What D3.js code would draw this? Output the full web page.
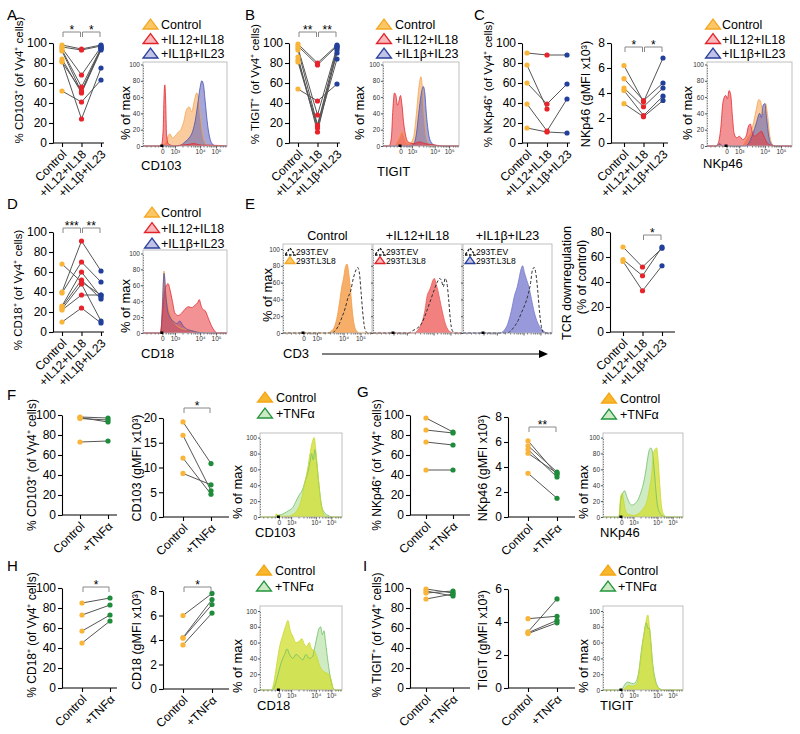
<!DOCTYPE html>
<html><head><meta charset="utf-8">
<script src="https://cdn.jsdelivr.net/npm/d3@7"></script>
<style>body{margin:0;background:#fff}</style>
</head><body><svg id="c" width="800" height="734"></svg>
<script>
// ---------------- DATA ----------------
const catsCyto = ["Control", "+IL12+IL18", "+IL1β+IL23"];
const catsTnf = ["Control", "+TNFα"];
const pctTicks = [0, 20, 40, 60, 80, 100];
const mfi8Ticks = [0, 2, 4, 6, 8];
const mfi20Ticks = [0, 5, 10, 15, 20];
const mfi6Ticks = [0, 2, 4, 6];
const tcrTicks = [0, 20, 40, 60, 80];

// donors: [Control, +IL12+IL18, +IL1b+IL23]
const A_cd103Pct = [[98,94,98],[96,93,97],[95,68,96],[93,56,95],[92,51,94],[84,50,93],[82,24,75],[81,52,95],[52,41,63]];
const B_tigitPct = [[99,80,98],[97,78,97],[95,28,96],[93,18,95],[86,11,93],[83,17,90],[81,15,84],[54,42,59]];
const C_nkp46Pct = [[90,88,88],[78,34,null],[60,39,59],[39,12,44],[15,11,10]];
const C_nkp46Mfi = [[6.2,3.3,6.8],[5.15,3.4,4.8],[4.4,2.9,4.4],[4.2,2.2,3.75],[3.15,2.1,3.4]];
const D_cd18Pct = [[68,50,37],[40,91,61],[39,70,50],[26,60,35],[25,52,33],[23,48,11],[22,37,37],[10,24,9]];
const E_tcrDown = [[68,52,67],[58,45,68],[56.5,33,53]];
// donors: [Control, +TNFa]
const F_cd103Pct = [[98,97],[97.5,93],[96.5,95],[73,74]];
const F_cd103Mfi = [[19.2,10.8],[16.5,5.3],[11.9,4.6],[8.8,6.5]];
const G_nkp46Pct = [[97,83],[85,82],[73,70],[45,45]];
const G_nkp46Mfi = [[6.1,3.4],[5.7,3.6],[5.4,3.2],[5.1,3.5],[3.5,1.5]];
const H_cd18Pct = [[85,90],[73,83],[57,73],[45,67]];
const H_cd18Mfi = [[6.0,7.8],[4.2,7.3],[4.15,6.9],[3.6,6.2]];
const I_tigitPct = [[99,95],[97,92],[95,97],[89,94]];
const I_tigitMfi = [[4.2,4.35],[3.4,5.4],[3.35,4.1],[3.3,3.95]];

// histogram axis (display channel 0-100, % of max)
const histTicksX = [23, 38, 68, 87];
const histTickLabels = ["0", "10³", "10⁴", "10⁵"];
const histMinorX = [4, 9, 14, 18, 27, 30, 32, 34, 36, 47, 53, 57, 60, 62, 64, 66, 72, 76, 79, 81, 83, 85, 92, 95, 98];
const histTicksY = [0, 20, 40, 60, 80, 100];

const histA_ctrl = [[0,0],[22,0],[25,2],[28,8],[30,12],[32,15],[35,10],[38,12],[42,17],[45,20],[48,28],[52,45],[55,48],[58,42],[61,55],[64,65],[66,60],[68,40],[71,15],[74,4],[78,0],[100,0]];
const histA_il1b = [[0,0],[40,0],[45,1],[50,5],[55,10],[58,15],[62,30],[65,50],[68,72],[70,80],[72,75],[74,55],[77,25],[80,8],[83,2],[86,0],[100,0]];
const histA_il12 = [[0,0],[18,0],[22,1],[24,20],[25,60],[26,75],[27,55],[28,15],[30,3],[33,1],[36,0],[45,1],[55,2],[60,3],[65,2],[70,1],[80,1],[100,0]];

const histB_ctrl = [[0,0],[15,0],[18,5],[22,12],[25,18],[28,12],[31,5],[35,3],[40,10],[44,40],[47,70],[50,85],[52,70],[54,40],[57,12],[60,3],[65,0],[100,0]];
const histB_il1b = [[0,0],[35,0],[40,2],[44,15],[47,40],[50,62],[53,73],[55,65],[57,40],[60,15],[63,5],[68,1],[75,0],[100,0]];
const histB_il12 = [[0,0],[8,0],[11,10],[13,45],[15,65],[17,62],[19,50],[21,55],[23,62],[25,50],[27,30],[30,12],[33,5],[40,3],[48,5],[55,3],[62,2],[70,1],[80,0],[100,0]];

const histC_ctrl = [[0,0],[40,0],[44,5],[48,12],[52,18],[55,30],[58,45],[61,57],[63,55],[66,40],[69,52],[71,40],[74,12],[77,2],[80,0],[100,0]];
const histC_il1b = [[0,0],[12,0],[15,3],[18,0],[45,0],[50,5],[54,15],[58,28],[62,40],[64,35],[66,50],[68,52],[70,35],[73,10],[76,2],[80,0],[100,0]];
const histC_il12 = [[0,0],[10,0],[13,3],[16,20],[19,55],[22,62],[24,58],[26,68],[28,62],[30,35],[32,15],[35,10],[38,12],[42,8],[46,12],[49,25],[51,27],[53,18],[56,12],[60,15],[64,18],[67,12],[70,5],[75,1],[80,0],[100,0]];

const histD_ctrl = [[0,0],[20,0],[22,10],[24,60],[25,78],[27,55],[29,40],[31,30],[34,20],[38,12],[42,8],[48,5],[55,4],[62,2],[70,1],[78,0],[100,0]];
const histD_il1b = [[0,0],[21,0],[23,30],[25,75],[27,50],[29,30],[32,20],[36,15],[40,12],[44,15],[47,10],[52,5],[58,3],[65,1],[75,0],[100,0]];
const histD_il12 = [[0,0],[21,0],[23,20],[25,45],[27,58],[30,62],[32,55],[35,40],[38,25],[42,22],[46,25],[50,30],[54,33],[58,32],[62,35],[65,38],[67,42],[69,35],[71,30],[74,28],[78,18],[82,8],[85,3],[88,0],[100,0]];

const histE_ctrl = [[0,0],[50,0],[54,2],[58,8],[61,20],[64,40],[66,55],[68,65],[70,78],[72,82],[74,70],[76,50],[78,25],[80,10],[83,2],[86,0],[100,0]];
const histE_ctrlEV = [[0,0],[55,0],[58,2],[62,8],[66,18],[70,30],[73,42],[76,50],[79,65],[82,75],[84,78],[86,70],[88,45],[90,20],[92,5],[95,0],[100,0]];
const histE_il12 = [[0,0],[46,0],[50,3],[54,10],[58,25],[61,45],[63,50],[65,55],[67,62],[69,65],[71,58],[73,50],[75,40],[78,25],[81,12],[85,3],[90,0],[100,0]];
const histE_il12EV = [[0,0],[40,0],[45,3],[50,6],[55,12],[60,25],[65,40],[69,52],[72,60],[75,65],[77,62],[79,55],[81,65],[83,60],[85,40],[87,15],[89,3],[92,0],[100,0]];
const histE_il1b = [[0,0],[42,0],[46,3],[50,10],[54,25],[58,45],[61,55],[63,65],[65,75],[67,80],[69,72],[71,65],[74,55],[77,40],[80,25],[84,12],[88,5],[92,1],[95,0],[100,0]];
const histE_il1bEV = [[0,0],[50,0],[54,3],[58,8],[62,15],[66,25],[70,35],[73,45],[76,60],[78,75],[80,78],[82,70],[84,50],[86,25],[88,8],[91,0],[100,0]];

const histF_ctrl = [[0,0],[18,0],[20,4],[22,2],[25,1],[35,1],[40,3],[45,8],[50,20],[55,45],[58,60],[61,80],[64,95],[66,100],[68,85],[71,50],[74,20],[77,5],[80,1],[84,0],[100,0]];
const histF_tnf = [[0,0],[20,0],[22,2],[26,3],[30,5],[35,8],[40,12],[44,20],[48,28],[52,35],[55,45],[58,55],[61,70],[63,80],[65,72],[67,85],[69,70],[72,40],[75,15],[79,5],[83,2],[88,0],[100,0]];
const histG_ctrl = [[0,0],[20,0],[22,25],[24,30],[26,20],[28,8],[32,3],[38,2],[44,4],[50,10],[55,20],[58,35],[61,55],[63,80],[65,85],[67,87],[69,70],[71,40],[73,15],[76,3],[80,0],[100,0]];
const histG_tnf = [[0,0],[20,0],[22,20],[24,28],[27,33],[30,25],[33,18],[36,15],[40,17],[44,22],[47,30],[50,40],[53,55],[56,75],[58,85],[60,87],[62,80],[64,60],[66,35],[68,15],[71,5],[75,1],[80,0],[100,0]];
const histH_ctrl = [[0,0],[14,0],[17,10],[20,30],[24,55],[28,70],[31,80],[34,88],[37,75],[40,68],[44,60],[48,62],[51,65],[54,58],[57,55],[60,60],[63,52],[66,50],[70,40],[73,30],[76,25],[80,22],[84,20],[87,12],[89,2],[91,0],[100,0]];
const histH_tnf = [[0,0],[15,0],[18,5],[22,20],[26,35],[30,45],[33,52],[36,45],[40,40],[44,45],[48,42],[52,38],[56,45],[60,40],[64,42],[67,55],[70,70],[72,78],[74,80],[76,70],[78,75],[80,60],[83,35],[86,15],[89,3],[92,0],[100,0]];
const histI_ctrl = [[0,0],[25,0],[28,3],[32,6],[36,5],[40,6],[43,10],[46,30],[49,55],[52,75],[54,88],[56,95],[58,80],[60,55],[62,30],[65,12],[68,4],[72,1],[76,0],[100,0]];
const histI_tnf = [[0,0],[22,0],[25,3],[28,8],[31,10],[34,9],[38,8],[42,12],[45,25],[48,50],[51,70],[54,85],[56,78],[58,78],[60,60],[62,35],[65,15],[68,5],[72,1],[76,0],[100,0]];

// ---------------- DRAWING ----------------
const FONT = '"Liberation Sans", Arial, Helvetica, sans-serif';
const svg = d3.select("#c").attr("font-family", FONT);
const DOT = {ctrl:"#f9b43a", il12:"#e8232a", il1b:"#22409a", tnf:"#1e8c3a"};
const HF = {
  ctrl:{fill:"#f5a04a", op:0.55, stroke:"#f3a552"},
  il12:{fill:"#e8383c", op:0.55, stroke:"#e3282d"},
  il1b:{fill:"#5a5fb8", op:0.55, stroke:"#4a50b0"},
  ectrl:{fill:"#f6a04e", op:0.85, stroke:"#f39a45"},
  eil12:{fill:"#ee6a68", op:0.85, stroke:"#e85a58"},
  eil1b:{fill:"#8587d4", op:0.85, stroke:"#7679cc"},
  ev:{fill:null, stroke:"#333", dash:"3,2"},
  yel:{fill:"#d3e03a", op:0.8, stroke:"#c7d82c"},
  grn:{fill:"#b9e3aa", op:0.7, stroke:"#6cbf66"}
};

function dotPlot(o) {
  const x = d3.scalePoint().domain(o.cats).range(o.cx);
  const y = d3.scaleLinear().domain([0, o.max]).range(o.py);
  const g = svg.append("g");
  const ya = g.append("g").attr("transform", `translate(${o.ax},0)`)
    .call(d3.axisLeft(y).tickValues(o.ticks).tickSize(4).tickSizeOuter(0).tickPadding(2).tickFormat(d3.format("d")));
  ya.selectAll("text").attr("font-size", 12).attr("font-family", FONT).attr("fill", "#000");
  ya.selectAll("line,path").attr("stroke", "#000").attr("stroke-width", 1.1);
  const xa = g.append("g").attr("transform", `translate(0,${o.py[0]})`)
    .call(d3.axisBottom(x).tickSize(4).tickSizeOuter(0));
  xa.select(".domain").remove();
  xa.selectAll("line").attr("stroke", "#000").attr("stroke-width", 1.1);
  xa.selectAll("text").attr("y", 0).attr("x", 0).attr("dy", "0.35em")
    .attr("text-anchor", "end").attr("transform", "translate(2,9) rotate(-45)")
    .attr("font-size", 12).attr("font-family", FONT).attr("fill", "#000");
  g.append("line").attr("x1", o.ax).attr("x2", o.xEnd).attr("y1", o.py[0]).attr("y2", o.py[0])
    .attr("stroke", "#000").attr("stroke-width", 1.1);
  const line = d3.line().defined(d => d[1] != null).x(d => x(d[0])).y(d => y(d[1]));
  o.data.forEach(row => {
    g.append("path").datum(row.map((v, i) => [o.cats[i], v])).attr("d", line)
      .attr("fill", "none").attr("stroke", "#555").attr("stroke-width", 1);
  });
  o.data.forEach(row => row.forEach((v, i) => {
    if (v == null) return;
    g.append("circle").attr("cx", x(o.cats[i])).attr("cy", y(v)).attr("r", 2.6).attr("fill", o.colors[i]);
  }));
  (o.labels || []).forEach(L => {
    g.append("text").attr("transform", `translate(${L[0]},${L[1]}) rotate(-90)`)
      .attr("text-anchor", "middle").attr("dy", "0.35em").attr("font-size", L[3] || 12).text(L[2]);
  });
  (o.sig || []).forEach(s => {
    const a = x(o.cats[s[0]]) + 1, b = x(o.cats[s[1]]) - 1;
    g.append("path").attr("d", `M${a},${o.sigY + 5}V${o.sigY}H${b}V${o.sigY + 5}`)
      .attr("fill", "none").attr("stroke", "#888").attr("stroke-width", 1);
    g.append("text").attr("x", (a + b) / 2).attr("y", o.sigY + 2).attr("text-anchor", "middle")
      .attr("font-size", 12).text(s[2]);
  });
}

function histo(o) {
  const x = d3.scaleLinear().domain([0, 100]).range([o.x0, o.x1]);
  const y = d3.scaleLinear().domain([0, 100]).range([o.bot, o.y100]);
  const g = svg.append("g");
  const area = d3.area().x(d => x(d[0])).y0(o.bot).y1(d => y(d[1])).curve(d3.curveMonotoneX);
  const line = d3.line().x(d => x(d[0])).y(d => y(d[1])).curve(d3.curveMonotoneX);
  o.curves.forEach(c => {
    if (c.st.fill) g.append("path").attr("d", area(c.data)).attr("fill", c.st.fill).attr("fill-opacity", c.st.op);
  });
  o.curves.forEach(c => {
    g.append("path").attr("d", line(c.data)).attr("fill", "none").attr("stroke", c.st.stroke)
      .attr("stroke-width", c.st.dash ? 1 : 0.8).attr("stroke-dasharray", c.st.dash || null);
  });
  g.append("rect").attr("x", o.x0).attr("y", o.top).attr("width", o.x1 - o.x0).attr("height", o.bot - o.top)
    .attr("fill", "none").attr("stroke", "#b0b0b0").attr("stroke-width", 0.8);
  const showY = o.showY !== false, showX = o.showX !== false;
  const ya = g.append("g").attr("transform", `translate(${o.x0},0)`)
    .call(d3.axisLeft(y).tickValues(histTicksY).tickSize(2).tickPadding(1).tickSizeOuter(0)
      .tickFormat(d => showY ? d : ""));
  ya.select(".domain").attr("stroke", "#777").attr("stroke-dasharray", "1,1.5");
  ya.selectAll("line").attr("stroke", "#555");
  ya.selectAll("text").attr("font-size", 6.5).attr("fill", "#333").attr("font-family", FONT);
  const xa = g.append("g").attr("transform", `translate(0,${o.bot})`)
    .call(d3.axisBottom(x).tickValues(histTicksX).tickSize(2.5).tickPadding(1).tickSizeOuter(0)
      .tickFormat((d, i) => showX ? histTickLabels[i] : ""));
  xa.select(".domain").remove();
  xa.selectAll("line").attr("stroke", "#555");
  xa.selectAll("text").attr("font-size", 6.5).attr("fill", "#333").attr("font-family", FONT);
  const xm = g.append("g").attr("transform", `translate(0,${o.bot})`)
    .call(d3.axisBottom(x).tickValues(histMinorX).tickSize(1.5).tickFormat(""));
  xm.select(".domain").remove();
  xm.selectAll("line").attr("stroke", "#777");
  g.append("rect").attr("x", x(histTicksX[0]) - 2).attr("y", o.bot - 1.5).attr("width", 3).attr("height", 2.5).attr("fill", "#000");
  if (o.ylab) g.append("text").attr("transform", `translate(${o.ylab[0]},${o.ylab[1]}) rotate(-90)`)
    .attr("text-anchor", "middle").attr("dy", "0.35em").attr("font-size", 13).text("% of max");
  if (o.xlab) g.append("text").attr("x", o.xlab[0]).attr("y", o.xlab[1]).attr("font-size", 13).text(o.xlab[2]);
}

function tri(g, cx, cy, st, w, h) {
  g.append("path").attr("d", `M${cx - w},${cy + h / 2}L${cx + w},${cy + h / 2}L${cx},${cy - h / 2}Z`)
    .attr("fill", st.fill).attr("stroke", st.stroke).attr("stroke-width", 1.3)
    .attr("stroke-dasharray", st.dash || null);
}
function legend(cx, tx, items, fs) {
  const g = svg.append("g");
  items.forEach(it => {
    tri(g, cx, it.y, it.st, 7.5, 10);
    g.append("text").attr("x", tx).attr("y", it.y + 5).attr("font-size", fs || 12.5).text(it.label);
  });
}
const LG = {
  ctrl:{fill:"#fbc766", stroke:"#f4a825"}, il12:{fill:"#f7b9bb", stroke:"#e3232a"},
  il1b:{fill:"#c0c3e6", stroke:"#2a3f9c"}, tnf:{fill:"#cde9c6", stroke:"#23953d"},
  ctrl2:{fill:"#f9b72d", stroke:"#f3a614"},
  ev:{fill:"none", stroke:"#111", dash:"2.5,1.5"}
};

// panel letters
[["A",7,20],["B",245,20],["C",474,20],["D",7,209],["E",245,209],["F",7,400],["G",357,397],["H",7,571],["I",363,571]]
  .forEach(p => svg.append("text").attr("x", p[1]).attr("y", p[2]).attr("font-size", 15).text(p[0]));

const c3 = [DOT.ctrl, DOT.il12, DOT.il1b], c2 = [DOT.ctrl, DOT.tnf];
// Row 1
dotPlot({data:A_cd103Pct, cats:catsCyto, cx:[62,101], ax:53, xEnd:104, py:[143,43], max:100, ticks:pctTicks, colors:c3,
  labels:[[19,80,"% CD103⁺ (of Vγ4⁺ cells)", 11.5]], sig:[[0,1,"*"],[1,2,"*"]], sigY:32});
histo({x0:143, x1:227, top:62, bot:146, y100:64.5, curves:[{data:histA_ctrl,st:HF.ctrl},{data:histA_il1b,st:HF.il1b},{data:histA_il12,st:HF.il12}],
  ylab:[125,113], xlab:[141,170,"CD103"]});
legend(150.5, 161, [{y:24,st:LG.ctrl,label:"Control"},{y:38.5,st:LG.il12,label:"+IL12+IL18"},{y:53,st:LG.il1b,label:"+IL1β+IL23"}]);

dotPlot({data:B_tigitPct, cats:catsCyto, cx:[298,337], ax:289, xEnd:340, py:[143,43], max:100, ticks:pctTicks, colors:c3,
  labels:[[255,84,"% TIGIT⁺ (of Vγ4⁺ cells)", 11.5]], sig:[[0,1,"**"],[1,2,"**"]], sigY:32});
histo({x0:383, x1:459, top:62, bot:146, y100:64.5, curves:[{data:histB_ctrl,st:HF.ctrl},{data:histB_il1b,st:HF.il1b},{data:histB_il12,st:HF.il12}],
  ylab:[359,113], xlab:[377,176,"TIGIT"]});
legend(384, 395, [{y:24,st:LG.ctrl,label:"Control"},{y:38.5,st:LG.il12,label:"+IL12+IL18"},{y:53,st:LG.il1b,label:"+IL1β+IL23"}]);

dotPlot({data:C_nkp46Pct, cats:catsCyto, cx:[527,567], ax:522, xEnd:570, py:[143,43], max:100, ticks:pctTicks, colors:c3,
  labels:[[488,84,"% NKp46⁺ (of Vγ4⁺ cells)", 11.5]]});
dotPlot({data:C_nkp46Mfi, cats:catsCyto, cx:[624,663], ax:611, xEnd:668, py:[143,43], max:8, ticks:mfi8Ticks, colors:c3,
  labels:[[586,94,"NKp46 (gMFI x10³)", 12.5]], sig:[[0,1,"*"],[1,2,"*"]], sigY:47});
histo({x0:707, x1:792, top:62, bot:146, y100:64.5, curves:[{data:histC_ctrl,st:HF.ctrl},{data:histC_il1b,st:HF.il1b},{data:histC_il12,st:HF.il12}],
  ylab:[687,113], xlab:[703,168,"NKp46"]});
legend(713, 722, [{y:24,st:LG.ctrl,label:"Control"},{y:38.5,st:LG.il12,label:"+IL12+IL18"},{y:53,st:LG.il1b,label:"+IL1β+IL23"}]);

// Row 2
dotPlot({data:D_cd18Pct, cats:catsCyto, cx:[62,101], ax:53, xEnd:104, py:[332,232], max:100, ticks:pctTicks, colors:c3,
  labels:[[18,290,"% CD18⁺ (of Vγ4⁺ cells)", 11.5]], sig:[[0,1,"***"],[1,2,"**"]], sigY:228});
histo({x0:143, x1:227, top:250, bot:333, y100:253.5, curves:[{data:histD_ctrl,st:HF.ctrl},{data:histD_il1b,st:HF.il1b},{data:histD_il12,st:HF.il12}],
  ylab:[125,306], xlab:[141,358,"CD18"]});
legend(152, 161, [{y:212,st:LG.ctrl,label:"Control"},{y:227.5,st:LG.il12,label:"+IL12+IL18"},{y:243,st:LG.il1b,label:"+IL1β+IL23"}]);

const ePanels = [
  {x0:283, x1:372, t:"Control", fill:histE_ctrl, ev:histE_ctrlEV, st:HF.ectrl, lg:LG.ctrl},
  {x0:373, x1:462, t:"+IL12+IL18", fill:histE_il12, ev:histE_il12EV, st:HF.eil12, lg:LG.il12},
  {x0:463, x1:552, t:"+IL1β+IL23", fill:histE_il1b, ev:histE_il1bEV, st:HF.eil1b, lg:LG.il1b}
];
ePanels.forEach((p, i) => {
  histo({x0:p.x0, x1:p.x1, top:244, bot:333, y100:249, curves:[{data:p.fill,st:p.st},{data:p.ev,st:HF.ev}],
    showY:i === 0, showX:i === 0});
  svg.append("text").attr("x", (p.x0 + p.x1) / 2).attr("y", 240).attr("text-anchor", "middle").attr("font-size", 12.5).text(p.t);
  const g = svg.append("g");
  tri(g, p.x0 + 7, 251.5, LG.ev, 5, 7);
  g.append("text").attr("x", p.x0 + 13).attr("y", 255).attr("font-size", 8.5).text("293T.EV");
  tri(g, p.x0 + 7, 260, p.lg, 5, 7);
  g.append("text").attr("x", p.x0 + 13).attr("y", 263.5).attr("font-size", 8.5).text("293T.L3L8");
});
svg.append("text").attr("transform", "translate(267,295) rotate(-90)").attr("text-anchor", "middle").attr("dy", "0.35em").attr("font-size", 13).text("% of max");
svg.append("text").attr("x", 283).attr("y", 358).attr("font-size", 13).text("CD3");
svg.append("line").attr("x1", 322).attr("x2", 540).attr("y1", 354).attr("y2", 354).attr("stroke", "#000").attr("stroke-width", 1);
svg.append("path").attr("d", "M539,350L548,354L539,358Z").attr("fill", "#000");

dotPlot({data:E_tcrDown, cats:catsCyto, cx:[623,662], ax:610, xEnd:675, py:[332,232], max:80, ticks:tcrTicks, colors:c3,
  labels:[[567,283,"TCR downregulation", 12.5],[582,277,"(% of control)", 12.5]], sig:[[1,2,"*"]], sigY:235});

// Row 3
dotPlot({data:F_cd103Pct, cats:catsTnf, cx:[80,108], ax:62, xEnd:117, py:[515,415], max:100, ticks:pctTicks, colors:c2,
  labels:[[32,465,"% CD103⁺ (of Vγ4⁺ cells)"]]});
dotPlot({data:F_cd103Mfi, cats:catsTnf, cx:[183,211], ax:163, xEnd:229, py:[517,418], max:20, ticks:mfi20Ticks, colors:c2,
  labels:[[137,468,"CD103 (gMFI x10³)", 12.5]], sig:[[0,1,"*"]], sigY:408});
histo({x0:260, x1:342, top:433, bot:517, y100:437.6, curves:[{data:histF_tnf,st:HF.grn},{data:histF_ctrl,st:HF.yel}],
  ylab:[237,492], xlab:[255,537,"CD103"]});
legend(265, 276, [{y:397,st:LG.ctrl2,label:"Control"},{y:413,st:LG.tnf,label:"+TNFα"}]);

dotPlot({data:G_nkp46Pct, cats:catsTnf, cx:[426,453], ax:410, xEnd:470, py:[515,415], max:100, ticks:pctTicks, colors:c2,
  labels:[[377,465,"% NKp46⁺ (of Vγ4⁺ cells)"]]});
dotPlot({data:G_nkp46Mfi, cats:catsTnf, cx:[528,557], ax:508, xEnd:575, py:[517,417], max:8, ticks:mfi8Ticks, colors:c2,
  labels:[[483,468,"NKp46 (gMFI x10³)", 12.5]], sig:[[0,1,"**"]], sigY:427});
histo({x0:603, x1:683, top:433, bot:517, y100:437.6, curves:[{data:histG_tnf,st:HF.grn},{data:histG_ctrl,st:HF.yel}],
  ylab:[583,492], xlab:[600,537,"NKp46"]});
legend(609, 620, [{y:398,st:LG.ctrl2,label:"Control"},{y:414,st:LG.tnf,label:"+TNFα"}]);

// Row 4
dotPlot({data:H_cd18Pct, cats:catsTnf, cx:[82,110], ax:62, xEnd:117, py:[688,588], max:100, ticks:pctTicks, colors:c2,
  labels:[[32,635,"% CD18⁺ (of Vγ4⁺ cells)"]], sig:[[0,1,"*"]], sigY:587});
dotPlot({data:H_cd18Mfi, cats:catsTnf, cx:[183,212], ax:163, xEnd:229, py:[689,591], max:8, ticks:mfi8Ticks, colors:c2,
  labels:[[137,640,"CD18 (gMFI x10³)", 12.5]], sig:[[0,1,"*"]], sigY:587});
histo({x0:260, x1:342, top:606, bot:690, y100:611, curves:[{data:histH_tnf,st:HF.grn},{data:histH_ctrl,st:HF.yel}],
  ylab:[237,666], xlab:[257,710,"CD18"]});
legend(264, 275, [{y:570,st:LG.ctrl2,label:"Control"},{y:586,st:LG.tnf,label:"+TNFα"}]);

dotPlot({data:I_tigitPct, cats:catsTnf, cx:[426,453], ax:410, xEnd:470, py:[688,588], max:100, ticks:pctTicks, colors:c2,
  labels:[[377,635,"% TIGIT⁺ (of Vγ4⁺ cells)"]]});
dotPlot({data:I_tigitMfi, cats:catsTnf, cx:[528,557], ax:508, xEnd:575, py:[688,589], max:6, ticks:mfi6Ticks, colors:c2,
  labels:[[483,640,"TIGIT (gMFI x10³)", 12.5]]});
histo({x0:603, x1:683, top:606, bot:690, y100:611, curves:[{data:histI_tnf,st:HF.grn},{data:histI_ctrl,st:HF.yel}],
  ylab:[583,666], xlab:[600,710,"TIGIT"]});
legend(608, 618, [{y:570,st:LG.ctrl2,label:"Control"},{y:586,st:LG.tnf,label:"+TNFα"}]);
</script></body></html>
